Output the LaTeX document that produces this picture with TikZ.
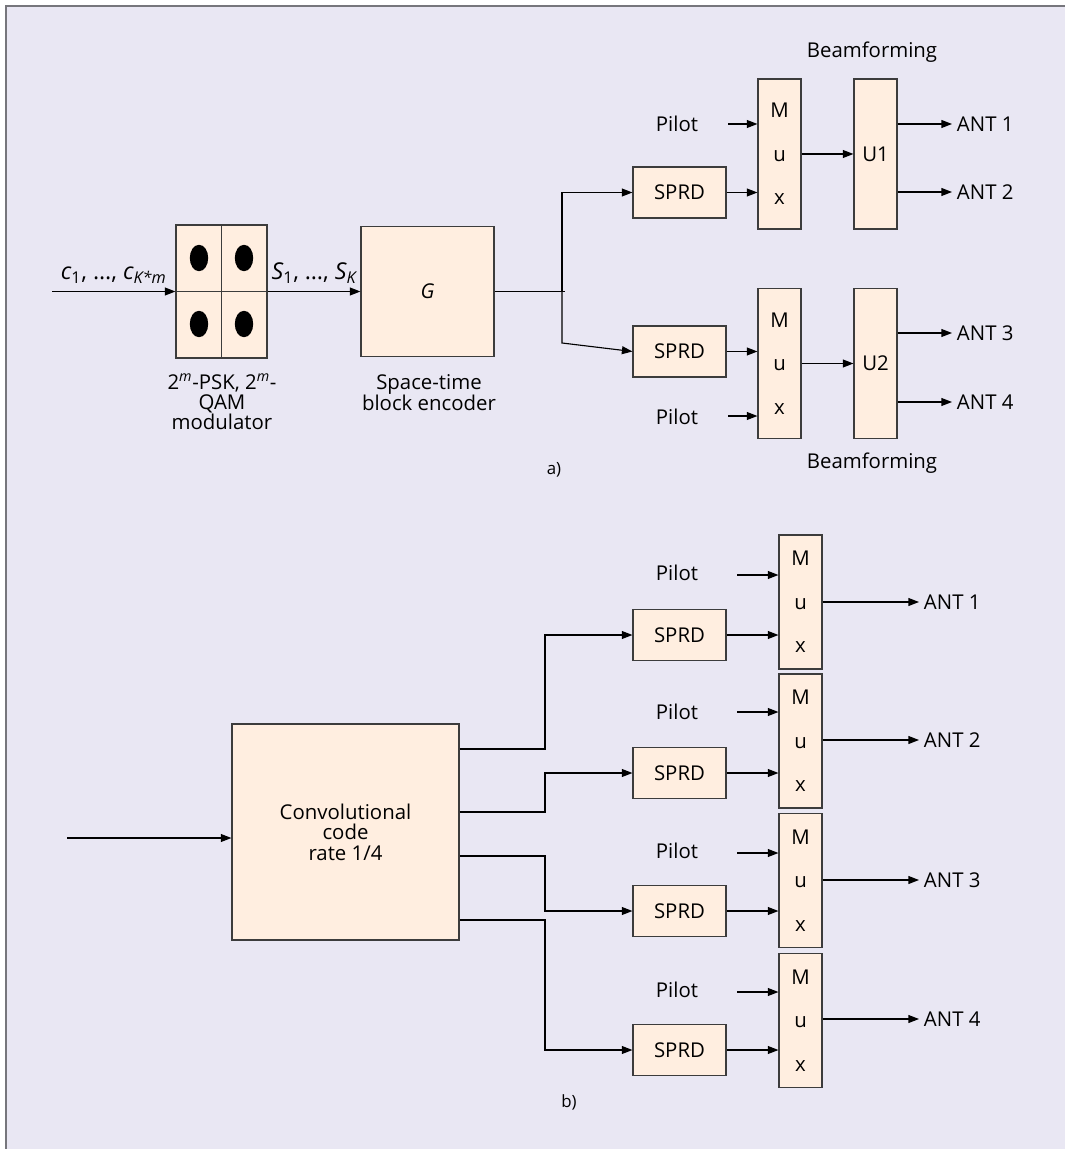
\documentclass[tikz,border=0pt]{standalone}
\usepackage{fontspec}
\setmainfont{Open Sans}
\usetikzlibrary{arrows.meta, positioning, shapes.geometric}
\definecolor{panelbg}{RGB}{233,231,243}
\definecolor{blockfill}{RGB}{255,238,224}
\definecolor{edge}{RGB}{60,60,60}
\definecolor{framegray}{RGB}{118,118,124}

\begin{document}
\begin{tikzpicture}[x=0.25mm, y=-0.25mm, font=\fontsize{14.5}{14.5}\selectfont,
  blk/.style={draw=edge, line width=0.8pt, fill=blockfill, inner sep=0pt},
  sprd/.style={blk, minimum width=2.325cm, minimum height=1.275cm},
  tall/.style={blk, minimum width=1.075cm, minimum height=3.75cm, align=center,
    font=\fontsize{14.5}{31}\selectfont},
  muxb/.style={tall, minimum height=3.35cm},
  sym/.style={font=\fontsize{16.5}{16.5}\selectfont},
  sig/.style={-{Triangle[length=7.5pt, width=5.6pt]}, line width=0.8pt}]
\useasboundingbox (0,0) rectangle (1065,1149);
\fill[white] (0,0) rectangle (1065,1149);
\fill[panelbg] (6,6) rectangle (1065,1149);
\draw[framegray, line width=1.4pt] (6,1149) -- (6,6) -- (1065,6);

% a) space-time block code with beamforming
\node[blk, minimum width=2.275cm, minimum height=3.325cm] (mod) at (221.5,291.5) {};
\draw[edge, line width=0.8pt] (mod.north) -- (mod.south) (mod.west) -- (mod.east);
\foreach \px/\py in {199/258, 244/258, 199/324, 244/324}
  \fill (\px,\py) ellipse [x radius=2.3mm, y radius=3.3mm];
\node[blk, minimum width=3.325cm, minimum height=3.25cm] (stbc) at (427.5,291.5) {\itshape G};
\node[align=center] (modlbl) at (222,402) {2\textsuperscript{\itshape m}-PSK, 2\textsuperscript{\itshape m}-\\QAM\\modulator};
\node[align=center] (stbclbl) at (429,392.5) {Space-time\\block encoder};
\coordinate (inA) at (52,291.5);
\draw[sig] (inA) -- node[sym, above=2pt] (cin) {{\itshape c}\textsubscript{1}, …, {\itshape c}\textsubscript{\itshape K*m}} (mod.west);
\draw[sig] (mod.east) -- node[sym, above=2pt] (sin) {{\itshape S}\textsubscript{1}, …, {\itshape S}\textsubscript{\itshape K}} (stbc.west);

\node[sprd] (sprdA1) at (679.5,192.5) {SPRD};
\node[sprd] (sprdA2) at (679.5,351.5) {SPRD};
\node[tall] (muxA1) at (779.5,154) {M\\u\\x};
\node[tall] (muxA2) at (779.5,363.5) {M\\u\\x};
\node[tall] (uA1) at (875.5,154) {U1};
\node[tall] (uA2) at (875.5,363.5) {U2};
\coordinate (fork) at (562,291.5);
\draw[line width=0.8pt] (stbc.east) -- (565,291.5);
\draw[sig] (fork) |- (sprdA1.west);
\draw[sig] (fork) -- (562,343) -- (sprdA2.west);
\draw[sig] (sprdA1.east) -- (sprdA1.east -| muxA1.west);
\draw[sig] (sprdA2.east) -- (sprdA2.east -| muxA2.west);
\draw[sig] (muxA1.east) -- (uA1.west);
\draw[sig] (muxA2.east) -- (uA2.west);
\node (pilA1) at (677,124) {Pilot};
\node (pilA2) at (677,417) {Pilot};
\coordinate (pa1) at (728,124);
\coordinate (pa2) at (728,416);
\draw[sig] (pa1) -- (pa1 -| muxA1.west);
\draw[sig] (pa2) -- (pa2 -| muxA2.west);
\node[anchor=west] (antA1) at (952,124) {ANT 1};
\node[anchor=west] (antA2) at (952,192) {ANT 2};
\node[anchor=west] (antA3) at (952,333) {ANT 3};
\node[anchor=west] (antA4) at (952,402) {ANT 4};
\draw[sig] (antA1.west -| uA1.east) -- (antA1.west);
\draw[sig] (antA2.west -| uA1.east) -- (antA2.west);
\draw[sig] (antA3.west -| uA2.east) -- (antA3.west);
\draw[sig] (antA4.west -| uA2.east) -- (antA4.west);
\node (bfA1) at (872,52) {Beamforming};
\node (bfA2) at (872,463) {Beamforming};
\node[font=\fontsize{12}{12}\selectfont] (capA) at (554,470) {a)};

% b) convolutional code over four antennas
\node[blk, minimum width=5.675cm, minimum height=5.4cm, align=center] (conv) at (345.5,832) {Convolutional\\code\\rate 1/4};
\coordinate (inB) at (67,838);
\draw[sig] (inB) -- (inB -| conv.west);
\node[sprd] (sprdB1) at (679.5,635) {SPRD};
\node[sprd] (sprdB2) at (679.5,773) {SPRD};
\node[sprd] (sprdB3) at (679.5,911) {SPRD};
\node[sprd] (sprdB4) at (679.5,1050) {SPRD};
\node[muxb] (muxB1) at (800.5,602) {M\\u\\x};
\node[muxb] (muxB2) at (800.5,741) {M\\u\\x};
\node[muxb] (muxB3) at (800.5,880.5) {M\\u\\x};
\node[muxb] (muxB4) at (800.5,1020.5) {M\\u\\x};
\coordinate (o1) at (545,749);
\coordinate (o2) at (545,812);
\coordinate (o3) at (545,856);
\coordinate (o4) at (545,920);
\draw[sig] (o1 -| conv.east) -- (o1) |- (sprdB1.west);
\draw[sig] (o2 -| conv.east) -- (o2) |- (sprdB2.west);
\draw[sig] (o3 -| conv.east) -- (o3) |- (sprdB3.west);
\draw[sig] (o4 -| conv.east) -- (o4) |- (sprdB4.west);
\draw[sig] (sprdB1.east) -- (sprdB1.east -| muxB1.west);
\draw[sig] (sprdB2.east) -- (sprdB2.east -| muxB2.west);
\draw[sig] (sprdB3.east) -- (sprdB3.east -| muxB3.west);
\draw[sig] (sprdB4.east) -- (sprdB4.east -| muxB4.west);
\node (pilB1) at (677,573) {Pilot};
\node (pilB2) at (677,712) {Pilot};
\node (pilB3) at (677,851) {Pilot};
\node (pilB4) at (677,990) {Pilot};
\coordinate (pb1) at (737,575);
\coordinate (pb2) at (737,712);
\coordinate (pb3) at (737,853);
\coordinate (pb4) at (737,992);
\draw[sig] (pb1) -- (pb1 -| muxB1.west);
\draw[sig] (pb2) -- (pb2 -| muxB2.west);
\draw[sig] (pb3) -- (pb3 -| muxB3.west);
\draw[sig] (pb4) -- (pb4 -| muxB4.west);
\node[anchor=west] (antB1) at (919,602) {ANT 1};
\node[anchor=west] (antB2) at (919,740) {ANT 2};
\node[anchor=west] (antB3) at (919,880) {ANT 3};
\node[anchor=west] (antB4) at (919,1019) {ANT 4};
\draw[sig] (antB1.west -| muxB1.east) -- (antB1.west);
\draw[sig] (antB2.west -| muxB2.east) -- (antB2.west);
\draw[sig] (antB3.west -| muxB3.east) -- (antB3.west);
\draw[sig] (antB4.west -| muxB4.east) -- (antB4.west);
\node[font=\fontsize{12}{12}\selectfont] (capB) at (569,1102) {b)};
\end{tikzpicture}
\end{document}
